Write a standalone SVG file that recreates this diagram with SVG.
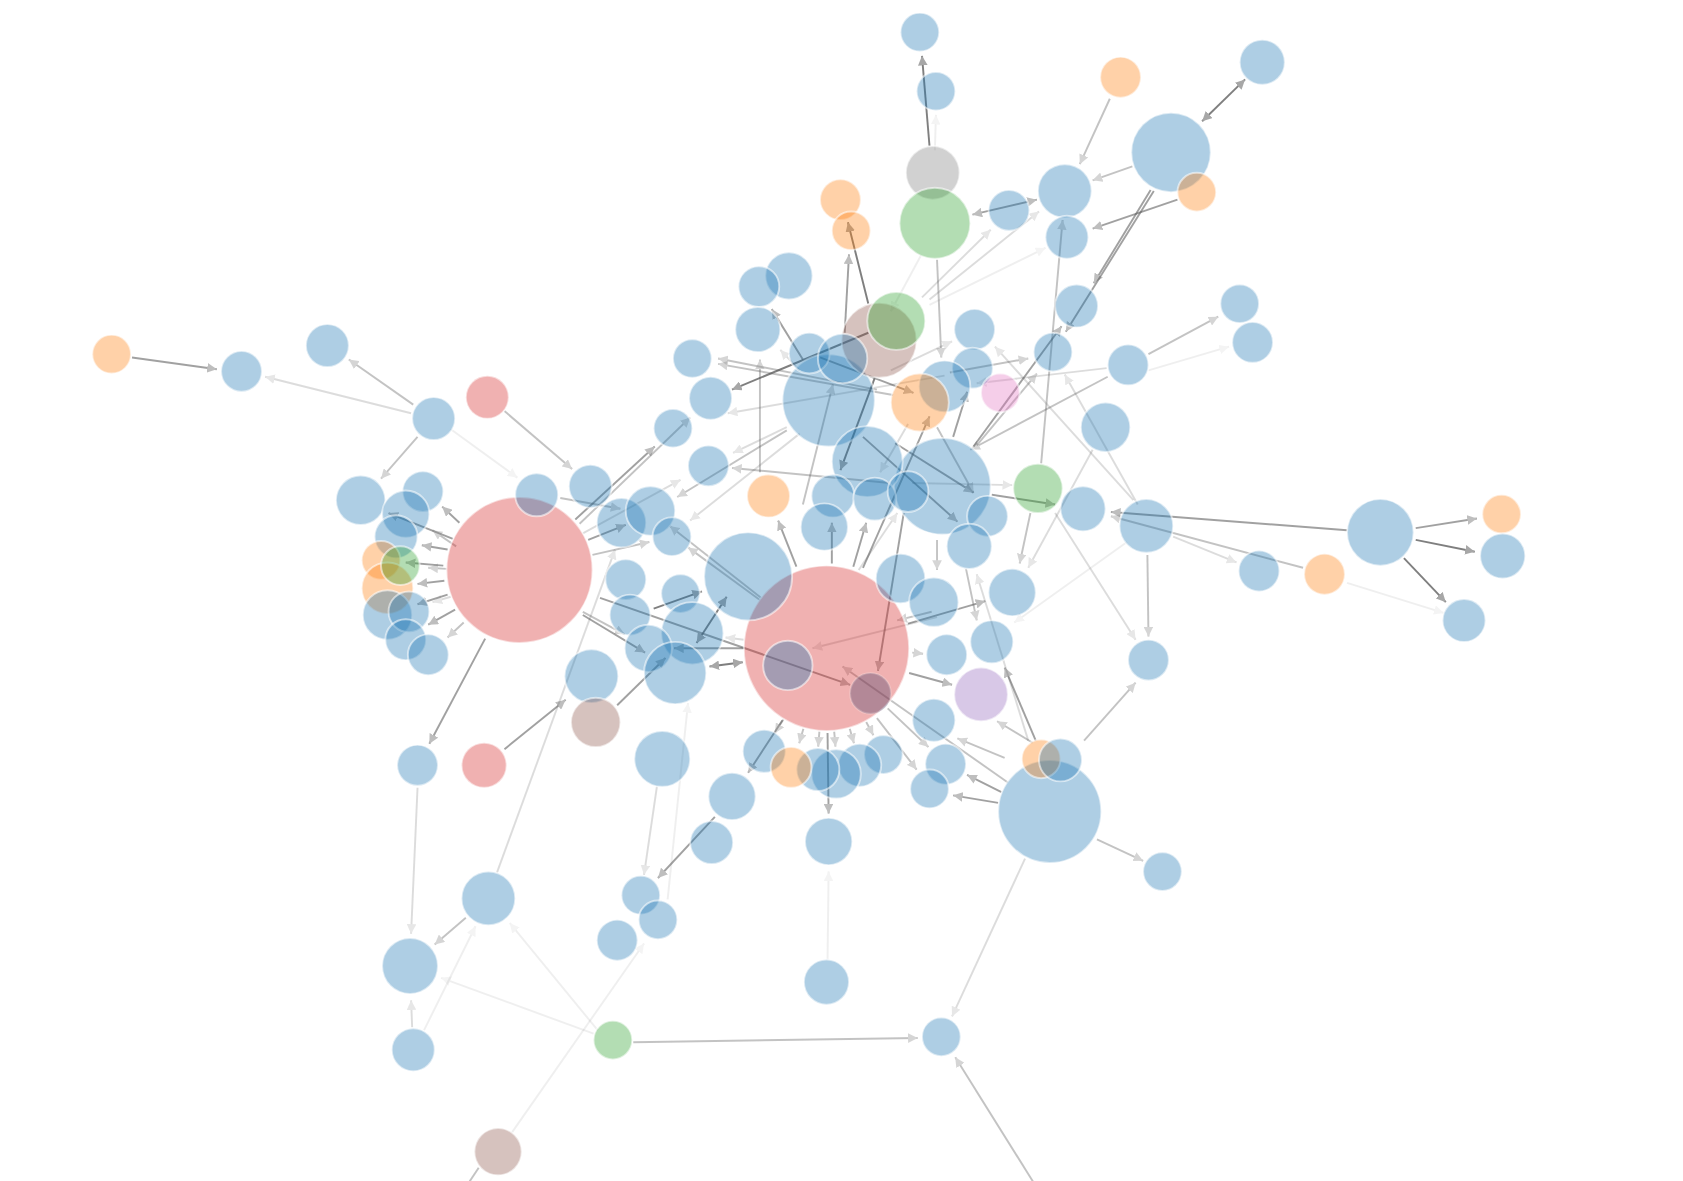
<svg xmlns="http://www.w3.org/2000/svg" width="1683" height="1181" viewBox="0 0 1683 1181">
<style>
.n{stroke:#fff;stroke-width:1.8;stroke-opacity:0.55;fill-opacity:0.36}
.b{fill:#1f77b4}.r{fill:#d62728}.o{fill:#ff7f0e}.g{fill:#2ca02c}.gr{fill:#7f7f7f}.br{fill:#8c564b}.p{fill:#9467bd}.pk{fill:#e377c2}.m{fill:#493f6a}
#links line{stroke:#555;stroke-width:1.8;marker-end:url(#a)}
.k1{opacity:0.75}.k2{opacity:0.55}.k3{opacity:0.35}.k4{opacity:0.2}.k5{opacity:0.09}
.bi{marker-start:url(#s)}
</style>
<defs>
<marker id="a" viewBox="0 -5 10 10" refX="10" refY="0" markerWidth="5" markerHeight="5" orient="auto"><path d="M0,-5L10,0L0,5Z" fill="#8a8a8a"/></marker>
<marker id="s" viewBox="0 -5 10 10" refX="10" refY="0" markerWidth="5" markerHeight="5" orient="auto-start-reverse"><path d="M0,-5L10,0L0,5Z" fill="#8a8a8a"/></marker>
</defs>
<rect width="1683" height="1181" fill="#fff"/>
<g transform="scale(1.07334)">
<g id="links">
<line x1="123" y1="333" x2="202" y2="344" class="k2"/>
<line x1="385" y1="377" x2="325" y2="335" class="k3"/>
<line x1="383" y1="385" x2="247" y2="351" class="k4"/>
<line x1="389" y1="407" x2="355" y2="446" class="k3"/>
<line x1="470" y1="383" x2="533" y2="437" class="k3"/>
<line x1="420" y1="400" x2="482" y2="445" class="k5"/>
<line x1="428" y1="487" x2="412" y2="472" class="k2"/>
<line x1="422" y1="502" x2="362" y2="478" class="k2"/>
<line x1="425" y1="509" x2="403" y2="494" class="k3"/>
<line x1="417" y1="512" x2="393" y2="508" class="k2"/>
<line x1="413" y1="527" x2="378" y2="524" class="k2"/>
<line x1="416" y1="530" x2="399" y2="529" class="k3"/>
<line x1="414" y1="541" x2="389" y2="544" class="k2"/>
<line x1="417" y1="554" x2="389" y2="563" class="k2"/>
<line x1="420" y1="556" x2="403" y2="561" class="k4"/>
<line x1="424" y1="568" x2="399" y2="582" class="k2"/>
<line x1="432" y1="580" x2="417" y2="594" class="k3"/>
<line x1="452" y1="595" x2="400" y2="693" class="k2"/>
<line x1="522" y1="464" x2="578" y2="474" class="k3"/>
<line x1="548" y1="503" x2="583" y2="489" class="k2"/>
<line x1="552" y1="517" x2="605" y2="505" class="k3"/>
<line x1="559" y1="557" x2="792" y2="638" class="k2"/>
<line x1="543" y1="570" x2="582" y2="591" class="k3"/>
<line x1="543" y1="573" x2="601" y2="608" class="k2"/>
<line x1="536" y1="484" x2="610" y2="416" class="k2"/>
<line x1="540" y1="488" x2="643" y2="389" class="k3"/>
<line x1="543" y1="497" x2="634" y2="447" class="k4"/>
<line x1="470" y1="698" x2="527" y2="652" class="k2"/>
<line x1="463" y1="813" x2="573" y2="512" class="k4"/>
<line x1="575" y1="657" x2="620" y2="613" class="k2"/>
<line x1="622" y1="838" x2="641" y2="655" class="k5"/>
<line x1="612" y1="733" x2="600" y2="815" class="k4"/>
<line x1="553" y1="963" x2="411" y2="911" class="k5"/>
<line x1="557" y1="960" x2="475" y2="860" class="k5"/>
<line x1="590" y1="971" x2="855" y2="967" class="k3"/>
<line x1="477" y1="1055" x2="600" y2="879" class="k5"/>
<line x1="446" y1="1088" x2="430" y2="1112" class="k3"/>
<line x1="395" y1="960" x2="443" y2="863" class="k5"/>
<line x1="384" y1="957" x2="383" y2="932" class="k4"/>
<line x1="389" y1="734" x2="383" y2="870" class="k4"/>
<line x1="434" y1="855" x2="405" y2="880" class="k3"/>
<line x1="771" y1="894" x2="772" y2="812" class="k5"/>
<line x1="771" y1="683" x2="772" y2="758" class="k2"/>
<line x1="666" y1="761" x2="613" y2="818" class="k2"/>
<line x1="729" y1="671" x2="697" y2="720" class="k2"/>
<line x1="730" y1="670" x2="722" y2="683" class="k3"/>
<line x1="748.5" y1="679" x2="744.6" y2="692.4" class="k3"/>
<line x1="763.4" y1="681.7" x2="762.3" y2="695.6" class="k3"/>
<line x1="777.2" y1="681.6" x2="778.4" y2="695.6" class="k3"/>
<line x1="791.7" y1="679" x2="795.6" y2="692.4" class="k3"/>
<line x1="807" y1="672.6" x2="813.7" y2="685" class="k3"/>
<line x1="817" y1="669" x2="854" y2="717" class="k3"/>
<line x1="827" y1="660" x2="865" y2="696" class="k3"/>
<line x1="939" y1="729" x2="785" y2="621" class="k3"/>
<line x1="936" y1="706" x2="892" y2="688" class="k3"/>
<line x1="933" y1="738" x2="901" y2="722" class="k2"/>
<line x1="930" y1="748" x2="888" y2="741" class="k2"/>
<line x1="962" y1="692" x2="929" y2="672" class="k3"/>
<line x1="965" y1="690" x2="936" y2="622" class="k2"/>
<line x1="958" y1="690" x2="910" y2="535" class="k4"/>
<line x1="1010" y1="690" x2="1058" y2="636" class="k3"/>
<line x1="1022" y1="782" x2="1065" y2="802" class="k3"/>
<line x1="955" y1="800" x2="887" y2="947" class="k4"/>
<line x1="965" y1="1105" x2="890" y2="985" class="k3"/>
<line x1="846" y1="581" x2="918" y2="560" class="k2"/>
<line x1="850" y1="608" x2="860" y2="609" class="k3"/>
<line x1="847" y1="627" x2="887" y2="638" class="k2"/>
<line x1="868" y1="570" x2="836" y2="578" class="k3"/>
<line x1="842" y1="478" x2="818" y2="625" class="k2"/>
<line x1="873" y1="575" x2="757" y2="604" class="k4"/>
<line x1="775" y1="525" x2="775" y2="487" class="k2"/>
<line x1="742" y1="528" x2="725" y2="485" class="k2"/>
<line x1="795" y1="528" x2="807" y2="487" class="k2"/>
<line x1="804" y1="529" x2="866" y2="388" class="k2"/>
<line x1="800" y1="531" x2="836" y2="478" class="k4"/>
<line x1="709" y1="557" x2="624" y2="490" class="k3"/>
<line x1="708" y1="559" x2="641" y2="510" class="k3"/>
<line x1="677" y1="556" x2="649" y2="599" class="k1 bi"/>
<line x1="609" y1="567" x2="654" y2="551" class="k1"/>
<line x1="693" y1="604" x2="628" y2="604" class="k2"/>
<line x1="661" y1="621" x2="692" y2="617" class="k1 bi"/>
<line x1="693" y1="596" x2="676" y2="594" class="k4"/>
<line x1="900" y1="530" x2="910" y2="578" class="k3"/>
<line x1="873" y1="503" x2="873" y2="531" class="k3"/>
<line x1="832" y1="368" x2="669" y2="339" class="k3"/>
<line x1="817" y1="363" x2="669" y2="334" class="k3"/>
<line x1="809" y1="310" x2="682" y2="363" class="k1"/>
<line x1="733" y1="398" x2="683" y2="422" class="k4"/>
<line x1="733" y1="401" x2="631" y2="463" class="k3"/>
<line x1="745" y1="404" x2="643" y2="485" class="k4"/>
<line x1="708" y1="440" x2="708" y2="335" class="k3"/>
<line x1="815" y1="352" x2="783" y2="438" class="k1"/>
<line x1="748" y1="470" x2="776" y2="358" class="k3"/>
<line x1="748" y1="335" x2="719" y2="288" class="k2"/>
<line x1="745" y1="345" x2="727" y2="326" class="k4"/>
<line x1="764" y1="333" x2="851" y2="366" class="k2"/>
<line x1="804" y1="407" x2="892" y2="486" class="k2"/>
<line x1="834" y1="413" x2="907" y2="459" class="k2"/>
<line x1="873" y1="398" x2="907" y2="459" class="k3"/>
<line x1="846" y1="395" x2="820" y2="440" class="k4"/>
<line x1="829" y1="450" x2="682" y2="436" class="k3"/>
<line x1="850" y1="450" x2="943" y2="452" class="k4"/>
<line x1="830" y1="345" x2="887" y2="318" class="k4"/>
<line x1="880" y1="350" x2="678" y2="385" class="k4"/>
<line x1="1070" y1="330" x2="1135" y2="295" class="k3"/>
<line x1="1070" y1="345" x2="1145" y2="323" class="k5"/>
<line x1="1031" y1="343" x2="910" y2="357" class="k4"/>
<line x1="1032" y1="351" x2="904" y2="419" class="k3"/>
<line x1="970" y1="432" x2="990" y2="205" class="k3"/>
<line x1="907" y1="416" x2="989" y2="304" class="k2"/>
<line x1="910" y1="415" x2="966" y2="348" class="k3"/>
<line x1="888" y1="407" x2="901" y2="365" class="k2"/>
<line x1="885" y1="347" x2="958" y2="334" class="k3"/>
<line x1="1056" y1="466" x2="927" y2="323" class="k4"/>
<line x1="1060" y1="470" x2="992" y2="349" class="k4"/>
<line x1="1018" y1="419" x2="958" y2="529" class="k4"/>
<line x1="960" y1="478" x2="950" y2="525" class="k3"/>
<line x1="924" y1="461" x2="983" y2="470" class="k2"/>
<line x1="1255" y1="494" x2="1035" y2="477" class="k2"/>
<line x1="1214" y1="529" x2="1035" y2="481" class="k3"/>
<line x1="1093" y1="500" x2="1152" y2="524" class="k4"/>
<line x1="1255" y1="543" x2="1345" y2="571" class="k5"/>
<line x1="1319" y1="492" x2="1376" y2="483" class="k2"/>
<line x1="1319" y1="503" x2="1374" y2="514" class="k1"/>
<line x1="1308" y1="520" x2="1347" y2="561" class="k1"/>
<line x1="1069" y1="517" x2="1070" y2="593" class="k3"/>
<line x1="983" y1="478" x2="1058" y2="596" class="k4"/>
<line x1="1050" y1="505" x2="945" y2="580" class="k5"/>
<line x1="866" y1="136" x2="859" y2="52" class="k1"/>
<line x1="871" y1="140" x2="872" y2="107" class="k5"/>
<line x1="1034" y1="92" x2="1006" y2="153" class="k3"/>
<line x1="1120" y1="113" x2="1160" y2="74" class="k1 bi"/>
<line x1="1055" y1="155" x2="1018" y2="168" class="k3"/>
<line x1="1097" y1="186" x2="1018" y2="213" class="k2"/>
<line x1="1072" y1="177" x2="1019" y2="264" class="k2"/>
<line x1="1075" y1="178" x2="993" y2="309" class="k2"/>
<line x1="906" y1="200" x2="966" y2="186" class="k2 bi"/>
<line x1="859" y1="277" x2="923" y2="214" class="k4"/>
<line x1="866" y1="279" x2="968" y2="197" class="k4"/>
<line x1="866" y1="284" x2="974" y2="231" class="k5"/>
<line x1="873" y1="242" x2="877" y2="333" class="k3"/>
<line x1="809" y1="283" x2="790" y2="207" class="k1"/>
<line x1="787" y1="310" x2="791" y2="237" class="k2"/>
<line x1="858" y1="238" x2="830" y2="290" class="k5"/>
</g>
<g id="nodes">
<g id="n88"><circle class="n r" cx="770" cy="604" r="77"/></g>
<g id="n64"><circle class="n r" cx="484" cy="531" r="68"/></g>
<g id="n107"><circle class="n b" cx="978" cy="756" r="48"/></g>
<g id="n43"><circle class="n b" cx="878" cy="453" r="45"/></g>
<g id="n30"><circle class="n b" cx="772" cy="373" r="43"/></g>
<g id="n75"><circle class="n b" cx="697" cy="537" r="41"/></g>
<g id="n5"><circle class="n b" cx="1091" cy="142" r="37"/></g>
<g id="n42"><circle class="n b" cx="808" cy="430" r="33"/></g>
<g id="n1"><circle class="n b" cx="857" cy="30" r="18"/></g>
<g id="n2"><circle class="n b" cx="872" cy="85" r="18"/></g>
<g id="n3"><circle class="n b" cx="1176" cy="58" r="21"/></g>
<g id="n4"><circle class="n o" cx="1044" cy="72" r="19"/></g>
<g id="n6"><circle class="n gr" cx="869" cy="161" r="25"/></g>
<g id="n7"><circle class="n g" cx="871" cy="208" r="33"/></g>
<g id="n8"><circle class="n o" cx="783" cy="186" r="19"/></g>
<g id="n9"><circle class="n o" cx="793" cy="215" r="18"/></g>
<g id="n10"><circle class="n b" cx="940" cy="196" r="19"/></g>
<g id="n11"><circle class="n b" cx="992" cy="178" r="25"/></g>
<g id="n12"><circle class="n o" cx="1115" cy="179" r="18"/></g>
<g id="n13"><circle class="n b" cx="994" cy="221" r="20"/></g>
<g id="n14"><circle class="n b" cx="735" cy="257" r="22"/></g>
<g id="n15"><circle class="n b" cx="707" cy="267" r="19"/></g>
<g id="n16"><circle class="n b" cx="1003" cy="285" r="20"/></g>
<g id="n17"><circle class="n b" cx="1155" cy="283" r="18"/></g>
<g id="n18"><circle class="n b" cx="1167" cy="319" r="19"/></g>
<g id="n19"><circle class="n o" cx="104" cy="330" r="18"/></g>
<g id="n20"><circle class="n b" cx="225" cy="346" r="19"/></g>
<g id="n21"><circle class="n b" cx="305" cy="322" r="20"/></g>
<g id="n22"><circle class="n b" cx="404" cy="390" r="20"/></g>
<g id="n23"><circle class="n r" cx="454" cy="370" r="20"/></g>
<g id="n24"><circle class="n b" cx="706" cy="307" r="21"/></g>
<g id="n26"><circle class="n br" cx="819" cy="317" r="35"/></g>
<g id="n25"><circle class="n g" cx="835" cy="299" r="27"/></g>
<g id="n27"><circle class="n b" cx="645" cy="334" r="18"/></g>
<g id="n28"><circle class="n b" cx="754" cy="329" r="19"/></g>
<g id="n29"><circle class="n b" cx="785" cy="334" r="23"/></g>
<g id="n31"><circle class="n b" cx="662" cy="371" r="20"/></g>
<g id="n32"><circle class="n b" cx="908" cy="307" r="19"/></g>
<g id="n33"><circle class="n b" cx="906" cy="343" r="19"/></g>
<g id="n34"><circle class="n b" cx="880" cy="360" r="24"/></g>
<g id="n35"><circle class="n o" cx="857" cy="375" r="27"/></g>
<g id="n36"><circle class="n pk" cx="932" cy="366" r="18"/></g>
<g id="n37"><circle class="n b" cx="981" cy="328" r="18"/></g>
<g id="n38"><circle class="n b" cx="1051" cy="340" r="19"/></g>
<g id="n39"><circle class="n b" cx="1030" cy="398" r="23"/></g>
<g id="n40"><circle class="n b" cx="627" cy="399" r="18"/></g>
<g id="n41"><circle class="n b" cx="660" cy="434" r="19"/></g>
<g id="n44"><circle class="n g" cx="967" cy="455" r="23"/></g>
<g id="n45"><circle class="n b" cx="1009" cy="474" r="21"/></g>
<g id="n46"><circle class="n b" cx="1068" cy="490" r="25"/></g>
<g id="n47"><circle class="n b" cx="1286" cy="496" r="31"/></g>
<g id="n48"><circle class="n o" cx="1399" cy="479" r="18"/></g>
<g id="n49"><circle class="n b" cx="1400" cy="518" r="21"/></g>
<g id="n50"><circle class="n b" cx="1173" cy="532" r="19"/></g>
<g id="n51"><circle class="n o" cx="1234" cy="535" r="19"/></g>
<g id="n52"><circle class="n b" cx="1364" cy="578" r="20"/></g>
<g id="n53"><circle class="n b" cx="336" cy="466" r="23"/></g>
<g id="n54"><circle class="n b" cx="394" cy="458" r="19"/></g>
<g id="n55"><circle class="n b" cx="378" cy="479" r="22"/></g>
<g id="n56"><circle class="n b" cx="369" cy="500" r="20"/></g>
<g id="n57"><circle class="n o" cx="355" cy="522" r="18"/></g>
<g id="n59"><circle class="n o" cx="361" cy="548" r="24"/></g>
<g id="n58"><circle class="n g" cx="373" cy="527" r="18"/></g>
<g id="n60"><circle class="n b" cx="361" cy="573" r="23"/></g>
<g id="n61"><circle class="n b" cx="381" cy="570" r="19"/></g>
<g id="n62"><circle class="n b" cx="378" cy="596" r="19"/></g>
<g id="n63"><circle class="n b" cx="399" cy="610" r="19"/></g>
<g id="n65"><circle class="n b" cx="500" cy="461" r="20"/></g>
<g id="n66"><circle class="n b" cx="550" cy="453" r="20"/></g>
<g id="n67"><circle class="n b" cx="579" cy="487" r="23"/></g>
<g id="n68"><circle class="n b" cx="606" cy="476" r="23"/></g>
<g id="n69"><circle class="n b" cx="626" cy="500" r="18"/></g>
<g id="n70"><circle class="n o" cx="716" cy="462" r="20"/></g>
<g id="n71"><circle class="n b" cx="776" cy="462" r="20"/></g>
<g id="n72"><circle class="n b" cx="815" cy="465" r="20"/></g>
<g id="n73"><circle class="n b" cx="846" cy="458" r="19"/></g>
<g id="n74"><circle class="n b" cx="768" cy="491" r="22"/></g>
<g id="n76"><circle class="n b" cx="920" cy="481" r="19"/></g>
<g id="n77"><circle class="n b" cx="903" cy="509" r="21"/></g>
<g id="n78"><circle class="n b" cx="583" cy="540" r="19"/></g>
<g id="n79"><circle class="n b" cx="634" cy="553" r="18"/></g>
<g id="n80"><circle class="n b" cx="587" cy="573" r="19"/></g>
<g id="n81"><circle class="n b" cx="645" cy="590" r="29"/></g>
<g id="n82"><circle class="n b" cx="604" cy="604" r="22"/></g>
<g id="n83"><circle class="n b" cx="629" cy="627" r="29"/></g>
<g id="n84"><circle class="n b" cx="551" cy="630" r="25"/></g>
<g id="n85"><circle class="n b" cx="839" cy="539" r="23"/></g>
<g id="n86"><circle class="n b" cx="870" cy="561" r="23"/></g>
<g id="n87"><circle class="n b" cx="943" cy="552" r="22"/></g>
<g id="n89"><circle class="n b" cx="734" cy="620" r="23"/></g>
<g id="n90"><circle class="n m" cx="811" cy="646" r="19" style="stroke-opacity:0.2"/></g>
<g id="n91"><circle class="n p" cx="914" cy="647" r="25"/></g>
<g id="n92"><circle class="n b" cx="882" cy="610" r="19"/></g>
<g id="n93"><circle class="n b" cx="924" cy="598" r="20"/></g>
<g id="n94"><circle class="n b" cx="870" cy="671" r="20"/></g>
<g id="n95"><circle class="n b" cx="881" cy="712" r="19"/></g>
<g id="n96"><circle class="n b" cx="866" cy="735" r="18"/></g>
<g id="n97"><circle class="n b" cx="823" cy="703" r="18"/></g>
<g id="n98"><circle class="n b" cx="801" cy="713" r="20"/></g>
<g id="n99"><circle class="n b" cx="779" cy="721" r="23"/></g>
<g id="n100"><circle class="n b" cx="762" cy="717" r="20"/></g>
<g id="n102"><circle class="n b" cx="712" cy="700" r="20"/></g>
<g id="n101"><circle class="n o" cx="737" cy="715" r="19"/></g>
<g id="n103"><circle class="n b" cx="682" cy="742" r="22"/></g>
<g id="n104"><circle class="n b" cx="617" cy="707" r="26"/></g>
<g id="n105"><circle class="n b" cx="663" cy="785" r="20"/></g>
<g id="n106"><circle class="n b" cx="772" cy="784" r="22"/></g>
<g id="n108"><circle class="n o" cx="970" cy="707" r="18"/></g>
<g id="n109"><circle class="n b" cx="988" cy="708" r="20"/></g>
<g id="n110"><circle class="n b" cx="1070" cy="615" r="19"/></g>
<g id="n111"><circle class="n b" cx="1083" cy="812" r="18"/></g>
<g id="n112"><circle class="n br" cx="555" cy="673" r="23"/></g>
<g id="n113"><circle class="n r" cx="451" cy="713" r="21"/></g>
<g id="n114"><circle class="n b" cx="389" cy="713" r="19"/></g>
<g id="n115"><circle class="n b" cx="455" cy="837" r="25"/></g>
<g id="n116"><circle class="n b" cx="382" cy="900" r="26"/></g>
<g id="n117"><circle class="n b" cx="385" cy="978" r="20"/></g>
<g id="n118"><circle class="n b" cx="597" cy="834" r="18"/></g>
<g id="n119"><circle class="n b" cx="613" cy="857" r="18"/></g>
<g id="n120"><circle class="n b" cx="575" cy="876" r="19"/></g>
<g id="n121"><circle class="n b" cx="770" cy="915" r="21"/></g>
<g id="n122"><circle class="n g" cx="571" cy="969" r="18"/></g>
<g id="n123"><circle class="n b" cx="877" cy="966" r="18"/></g>
<g id="n124"><circle class="n br" cx="464" cy="1073" r="22"/></g>
</g>
</g>
</svg>
